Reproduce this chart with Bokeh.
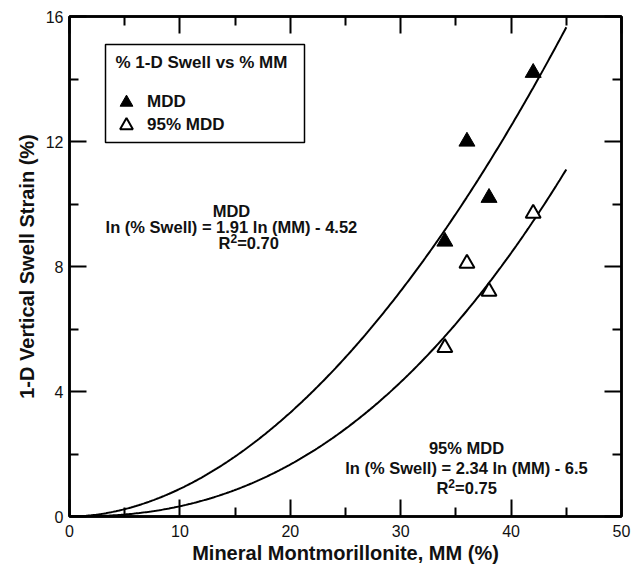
import numpy as np
from bokeh.plotting import figure
from bokeh.models import (LinearAxis, FixedTicker, Label, Legend, LegendItem,
                          Range1d, BoxAnnotation)
from bokeh.embed import file_html
from bokeh.resources import INLINE

# Measured swell strain (%) against montmorillonite content (%)
mm = [34, 36, 38, 42]
swell_mdd = [8.8, 12.0, 10.2, 14.2]
swell_95mdd = [5.4, 8.1, 7.2, 9.7]

# Power-law fits: ln(% Swell) = slope * ln(MM) + intercept
fit_mdd = (1.91, -4.52)
fit_95mdd = (2.34, -6.5)
fit_mm_max = 45

x_ticks = [0, 10, 20, 30, 40, 50]
x_minor = [5, 15, 25, 35, 45]
y_ticks = [0, 4, 8, 12, 16]
y_minor = [2, 6, 10, 14]

FONT = "Liberation Sans"
INK = "#111111"
TEXT_SIZE = "16.5px"

p = figure(width=631, height=575,
           min_border_left=69, min_border_right=10,
           min_border_top=16, min_border_bottom=59,
           x_range=Range1d(0, 50), y_range=Range1d(0, 16),
           x_axis_location=None, y_axis_location=None,
           output_backend="svg", toolbar_location=None)
p.grid.visible = False
p.outline_line_color = "black"
p.outline_line_width = 2.5
p.background_fill_color = "white"
p.border_fill_color = "white"


def make_axis(ticks, minor, labelled, label=""):
    ax = LinearAxis(ticker=FixedTicker(ticks=ticks, minor_ticks=minor))
    ax.axis_line_width = 2.5
    ax.axis_line_color = "black"
    ax.major_tick_in = 17
    ax.major_tick_out = 0
    ax.minor_tick_in = 9
    ax.minor_tick_out = 0
    ax.major_tick_line_width = 2
    ax.minor_tick_line_width = 2
    ax.major_tick_line_color = "black"
    ax.minor_tick_line_color = "black"
    ax.major_label_text_font = FONT
    ax.major_label_text_font_size = "16px"
    ax.major_label_text_color = INK
    if labelled:
        ax.axis_label = label
        ax.axis_label_text_font = FONT
        ax.axis_label_text_font_size = "20px"
        ax.axis_label_text_font_style = "bold"
        ax.axis_label_text_color = INK
    else:
        # mirrored axis: ticks only, no numbers
        ax.major_label_overrides = {t: "" for t in ticks}
        ax.major_label_text_font_size = "8px"
        ax.major_label_standoff = 0
    return ax


xb = make_axis(x_ticks, x_minor, True, "Mineral Montmorillonite, MM (%)")
xb.major_label_standoff = 8
xb.axis_label_standoff = 2
yl = make_axis(y_ticks, y_minor, True, "1-D Vertical Swell Strain (%)")
yl.major_label_standoff = 6
yl.axis_label_standoff = 5
p.add_layout(xb, "below")
p.add_layout(yl, "left")
p.add_layout(make_axis(x_ticks, x_minor, False), "above")
p.add_layout(make_axis(y_ticks, y_minor, False), "right")

# Fitted curves drawn from the stated equations
xs = np.linspace(0, fit_mm_max, 300)
for slope, intercept in (fit_mdd, fit_95mdd):
    ys = np.exp(intercept) * xs ** slope
    p.line(xs, ys, line_color="black", line_width=2)

r_mdd = p.scatter(mm, swell_mdd, marker="triangle", size=16,
                  fill_color="black", line_color="black", line_width=1)
r_95 = p.scatter(mm, swell_95mdd, marker="triangle", size=15,
                 fill_color="white", line_color="black", line_width=2)

# Legend frame and heading
p.add_layout(BoxAnnotation(left=36, right=235, bottom=374, top=472,
                           left_units="screen", right_units="screen",
                           bottom_units="screen", top_units="screen",
                           fill_color="white", fill_alpha=1.0,
                           line_color="black", line_width=1.5,
                           line_alpha=1.0))
p.add_layout(Label(x=46, y=454, x_units="screen", y_units="screen",
                   text="% 1-D Swell vs % MM", text_font=FONT,
                   text_font_size="17px", text_font_style="bold",
                   text_color=INK, text_align="left",
                   text_baseline="middle"))


def legend_entry(label, renderer, bottom):
    lg = Legend(items=[LegendItem(label=label, renderers=[renderer])],
                location=(41, bottom))
    lg.label_text_font = FONT
    lg.label_text_font_size = "17px"
    lg.label_text_font_style = "bold"
    lg.label_text_color = INK
    lg.glyph_width = 32
    lg.glyph_height = 32
    lg.label_standoff = 5
    lg.padding = 0
    lg.margin = 0
    lg.border_line_color = None
    lg.background_fill_alpha = 0.0
    p.add_layout(lg)


legend_entry("MDD", r_mdd, 398)
legend_entry("95% MDD", r_95, 375)


def add_text(x, y, text, size=TEXT_SIZE, align="center", x_off=0, y_off=0):
    p.add_layout(Label(x=x, y=y, text=text, text_font=FONT,
                       text_font_size=size, text_font_style="bold",
                       text_color=INK, text_align=align,
                       text_baseline="middle", x_offset=x_off,
                       y_offset=y_off))


def add_r2(x, y, value):
    add_text(x, y, "R", align="left")
    add_text(x, y, "2", size="12px", align="left", x_off=11.9, y_off=5)
    add_text(x, y, "=" + value, align="left", x_off=18.6)


# MDD fit annotation
add_text(14.67, 9.78, "MDD")
add_text(14.67, 9.25, "ln (% Swell) = 1.91 ln (MM) - 4.52")
add_r2(13.5, 8.75, "0.70")

# 95% MDD fit annotation
add_text(35.96, 2.18, "95% MDD")
add_text(35.96, 1.54, "ln (% Swell) = 2.34 ln (MM) - 6.5")
add_r2(33.24, 0.90, "0.75")

open("out.html", "w").write(file_html(p, INLINE))
